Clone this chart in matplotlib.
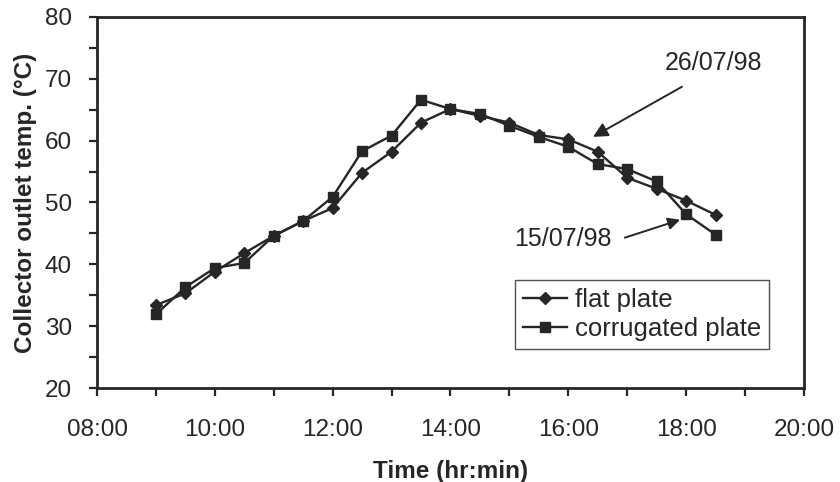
#!/usr/bin/env python3

import numpy as np
import matplotlib.pyplot as plt
from matplotlib.ticker import MultipleLocator, FuncFormatter

times = ["09:00", "09:30", "10:00", "10:30", "11:00", "11:30", "12:00", "12:30",
         "13:00", "13:30", "14:00", "14:30", "15:00", "15:30", "16:00", "16:30",
         "17:00", "17:30", "18:00", "18:30"]
flat_plate = [33.4, 35.3, 38.8, 41.8, 44.6, 47.0, 49.1, 54.8, 58.2, 62.9,
              65.1, 64.0, 62.9, 60.9, 60.2, 58.2, 54.0, 52.2, 50.3, 48.0]
corrugated_plate = [31.9, 36.3, 39.4, 40.2, 44.6, 47.0, 50.9, 58.3, 60.8, 66.6,
                    65.1, 64.3, 62.4, 60.6, 59.0, 56.2, 55.4, 53.4, 48.1, 44.8]
series_names = ["flat plate", "corrugated plate"]
date_labels = ["26/07/98", "15/07/98"]


def to_hours(s):
    h, m = s.split(":")
    return int(h) + int(m) / 60.0


def main():
    plt.rcParams['font.family'] = ['Liberation Sans', 'DejaVu Sans']
    ink = "#262626"

    x = np.array([to_hours(t) for t in times])

    fig = plt.figure(figsize=(8.4, 4.82), dpi=100)
    ax = fig.add_axes([0.1155, 0.195, 0.8415, 0.770])

    ax.plot(x, flat_plate, "-D", color=ink, lw=1.7, ms=6.5, label=series_names[0])
    ax.plot(x, corrugated_plate, "-s", color=ink, lw=1.7, ms=7, label=series_names[1])

    ax.set_xlim(8, 20)
    ax.set_ylim(20, 80)
    ax.xaxis.set_major_locator(MultipleLocator(2))
    ax.xaxis.set_minor_locator(MultipleLocator(1))
    ax.xaxis.set_major_formatter(FuncFormatter(lambda v, p: "{0:02d}:00".format(int(round(v)))))
    ax.yaxis.set_major_locator(MultipleLocator(10))
    ax.yaxis.set_minor_locator(MultipleLocator(5))

    ax.tick_params(which="both", direction="out", length=6, width=1.6, color=ink,
                   labelsize=17.5, labelcolor=ink)
    ax.tick_params(axis="x", which="major", pad=16)
    ax.tick_params(axis="y", which="major", pad=12)
    for sp in ax.spines.values():
        sp.set_linewidth(2.0)
        sp.set_color(ink)

    ax.set_xlabel("Time (hr:min)", fontsize=17.5, fontweight="bold", color=ink, labelpad=14)
    ax.set_ylabel("Collector outlet temp. (\u00b0C)", fontsize=17.5, fontweight="bold",
                  color=ink, labelpad=6)

    # date annotations
    ax.text(18.46, 72.6, date_labels[0], fontsize=18, color=ink, ha="center", va="center")
    ax.annotate("", xy=(16.42, 60.6), xytext=(17.93, 68.7),
                arrowprops=dict(arrowstyle="-|>", color=ink, lw=1.4, mutation_scale=22,
                                shrinkA=0, shrinkB=0))
    ax.text(15.91, 44.1, date_labels[1], fontsize=18, color=ink, ha="center", va="center")
    ax.annotate("", xy=(17.90, 47.2), xytext=(16.96, 44.3),
                arrowprops=dict(arrowstyle="-|>", color=ink, lw=1.4, mutation_scale=18,
                                shrinkA=0, shrinkB=0))

    leg = ax.legend(loc="lower right", bbox_to_anchor=(0.95, 0.105), borderaxespad=0,
                    fontsize=18.5, frameon=True, fancybox=False, handlelength=1.7,
                    handletextpad=0.3, borderpad=0.3, labelspacing=0.2)
    leg.get_frame().set_edgecolor(ink)
    leg.get_frame().set_linewidth(1.0)
    for t in leg.get_texts():
        t.set_color(ink)

    plt.savefig("out.png", dpi=100)


if __name__ == '__main__':
    main()
